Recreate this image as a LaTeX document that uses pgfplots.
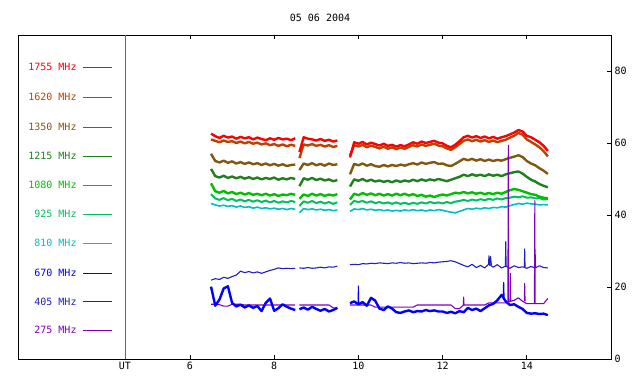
\documentclass[border=0pt]{standalone}
\usepackage{pgfplots}
\pgfplotsset{compat=1.18}
\usepackage{pgfplotstable}
\usepackage{fontspec}
\setmainfont{DejaVu Sans Mono}
\definecolor{cA}{RGB}{255,0,0}
\definecolor{cB}{RGB}{192,64,0}
\definecolor{cC}{RGB}{128,88,16}
\definecolor{cD}{RGB}{32,128,32}
\definecolor{cE}{RGB}{0,192,0}
\definecolor{cF}{RGB}{0,192,96}
\definecolor{cG}{RGB}{0,192,192}
\definecolor{cH}{RGB}{0,0,255}
\definecolor{cI}{RGB}{32,32,192}
\definecolor{cJ}{RGB}{128,0,192}
\definecolor{cGray}{RGB}{100,100,100}
\pgfplotstableread{
x r o b dg g t c bl db p
6.5 62.6 61.0 57.0 52.8 48.8 45.8 43.2 20.1 21.9 15.2
6.6 61.9 60.6 55.0 50.8 46.6 44.6 42.8 14.8 22.3 15.2
6.7 61.4 60.2 54.6 50.4 46.2 44.2 42.5 16.5 22.1 15.1
6.8 62.0 60.7 55.1 50.9 46.7 44.7 42.7 19.6 22.7 14.7
6.9 61.5 60.3 54.5 50.3 46.0 44.1 42.4 20.2 22.4 14.7
7.0 61.8 60.5 54.9 50.7 46.4 44.5 42.6 15.6 22.9 15.2
7.1 61.2 60.0 54.3 50.2 45.8 43.9 42.2 14.6 23.3 15.2
7.2 61.7 60.4 54.7 50.6 46.2 44.3 42.5 15.1 24.4 15.2
7.3 61.3 59.9 54.2 50.1 45.7 43.8 42.1 14.3 24.0 15.0
7.4 61.6 60.3 54.6 50.5 46.1 44.2 42.3 14.9 24.3 15.0
7.5 61.0 59.8 54.1 50.0 45.6 43.7 41.9 14.2 23.9 15.0
7.6 61.5 60.1 54.4 50.4 45.9 44.1 42.2 14.7 24.2 15.0
7.7 61.1 59.6 53.9 49.9 45.5 43.6 41.8 13.3 23.8 15.0
7.8 60.8 59.9 54.3 50.3 45.9 44.0 42.0 15.6 24.2 15.0
7.9 61.3 59.4 53.8 50.0 45.4 43.5 41.7 16.8 24.6 15.0
8.0 60.9 59.7 54.2 50.4 45.8 43.9 41.9 13.4 24.9 15.0
8.1 61.4 59.2 53.7 49.8 45.3 43.4 41.6 14.1 25.3 15.0
8.2 61.0 59.6 54.1 50.2 45.7 43.8 41.8 15.2 25.1 15.0
8.3 61.2 59.1 53.6 49.9 45.5 43.5 41.5 14.5 25.2 15.0
8.4 60.8 59.5 53.9 50.3 45.9 43.9 41.8 14.0 25.1 15.0
8.5 61.3 59.2 54.0 50.0 45.6 43.6 41.6 13.6 25.2 15.0
8.55 nan nan nan nan nan nan nan nan nan nan
8.6 57.5 55.8 52.5 48.0 44.5 42.5 40.6 13.8 25.3 15.0
8.7 61.6 59.6 54.3 50.2 45.7 43.8 41.8 14.3 25.2 15.0
8.8 61.2 59.3 53.9 49.8 45.3 43.4 41.5 13.7 25.4 15.0
8.9 61.0 59.7 54.4 50.3 45.9 43.9 41.7 14.5 25.2 15.0
9.0 60.7 59.2 53.8 49.7 45.4 43.3 41.4 13.9 25.3 15.0
9.1 61.1 59.5 54.2 50.1 45.8 43.7 41.6 13.4 25.5 15.0
9.2 60.6 59.0 53.7 49.6 45.3 43.2 41.3 13.9 25.3 15.0
9.3 60.9 59.4 54.3 49.9 45.7 43.6 41.5 13.2 25.6 15.0
9.4 60.4 58.9 53.9 49.4 45.4 43.1 41.2 13.6 25.5 14.2
9.5 60.7 59.2 54.1 49.7 45.8 43.5 41.4 14.2 25.8 14.2
9.65 nan nan nan nan nan nan nan nan nan nan
9.8 56.0 56.5 51.3 47.9 44.3 42.8 41.0 15.5 26.2 15.0
9.9 60.2 59.4 54.2 49.9 45.9 43.9 41.7 16.0 26.3 15.0
10.0 59.8 59.0 53.8 49.5 45.5 43.6 41.5 15.2 26.2 15.0
10.1 60.3 59.5 54.3 50.0 46.1 43.9 41.8 15.8 26.5 15.0
10.2 59.6 58.8 53.7 49.4 45.6 43.4 41.4 14.8 26.4 15.0
10.3 60.1 59.3 54.1 49.8 46.0 43.8 41.6 17.0 26.6 15.0
10.4 59.7 58.9 53.6 49.3 45.5 43.3 41.3 16.2 26.5 14.4
10.5 59.3 58.5 53.4 49.6 45.9 43.6 41.5 14.0 26.7 14.4
10.6 59.8 59.0 53.9 49.2 45.4 43.2 41.2 13.6 26.6 14.4
10.7 59.2 58.4 53.5 49.5 45.8 43.5 41.4 14.6 26.5 14.4
10.8 59.5 58.8 53.9 49.1 45.4 43.1 41.1 14.0 26.7 14.4
10.9 59.0 58.3 53.6 49.6 45.9 43.5 41.3 13.0 26.6 14.4
11.0 59.4 58.7 54.0 49.2 45.5 43.1 41.1 12.8 26.8 14.4
11.1 59.1 58.4 53.7 49.6 45.9 43.4 41.4 13.2 26.6 14.4
11.2 59.6 58.9 54.1 49.3 45.4 43.0 41.2 13.5 26.7 14.4
11.3 60.2 59.4 54.4 49.8 45.8 43.4 41.5 13.0 26.5 14.4
11.4 59.8 59.0 54.0 49.4 45.3 43.1 41.2 13.3 26.6 15.0
11.5 60.4 59.6 54.6 49.9 45.6 43.5 41.4 13.2 26.7 15.0
11.6 60.0 59.2 54.2 49.5 45.1 43.2 41.1 13.6 26.6 15.0
11.7 60.3 59.5 54.5 49.9 45.4 43.6 41.4 13.3 26.8 15.0
11.8 60.6 59.8 54.7 49.6 45.0 43.3 41.2 13.5 26.7 15.0
11.9 60.1 59.3 54.2 50.0 45.4 43.5 41.5 13.2 26.9 15.0
12.0 59.9 59.1 54.3 49.7 45.7 43.2 41.3 13.2 27.0 15.0
12.1 59.2 58.5 53.8 49.4 45.4 43.6 41.0 12.8 27.1 15.0
12.2 58.8 58.1 53.6 49.8 45.8 43.3 40.8 13.1 27.3 15.0
12.3 59.5 58.8 54.2 50.2 46.2 43.7 40.6 12.7 27.0 14.0
12.4 60.5 59.7 54.9 50.6 46.0 43.9 41.0 13.3 26.5 14.0
12.5 61.6 60.6 55.6 51.2 46.4 44.2 41.4 13.0 26.0 15.0
12.6 62.0 61.0 55.2 50.8 46.0 43.9 41.8 14.2 25.6 15.0
12.7 61.5 60.5 55.6 51.3 46.3 44.3 41.6 13.6 26.3 15.0
12.8 61.9 60.9 55.1 50.9 45.9 44.0 41.9 14.0 25.4 15.0
12.9 61.4 60.4 55.5 51.2 46.2 44.4 41.7 13.3 26.0 15.0
13.0 61.8 60.8 55.0 50.8 45.8 44.1 42.0 14.1 25.3 15.0
13.1 61.3 60.3 55.4 51.3 46.1 44.5 41.8 14.9 26.4 15.6
13.2 61.7 60.7 55.0 50.9 45.8 44.2 42.1 15.3 25.5 15.6
13.3 61.2 60.2 55.3 51.2 46.2 44.6 42.0 16.3 26.2 15.6
13.4 61.6 60.6 55.1 50.8 45.9 44.3 42.3 17.8 25.3 15.6
13.5 61.9 60.9 55.5 51.3 46.4 44.7 42.2 16.0 25.8 15.6
13.6 62.4 61.5 55.9 51.6 46.9 44.8 42.6 15.0 25.2 16.0
13.7 62.9 62.0 56.2 51.9 47.2 45.1 42.9 15.2 25.9 16.3
13.8 63.6 62.8 56.6 52.1 47.0 44.9 43.2 14.5 25.4 17.0
13.9 63.2 62.3 56.1 51.5 46.6 45.2 43.0 13.9 25.6 16.0
14.0 62.0 61.0 55.0 50.6 46.2 44.8 43.3 12.8 25.2 15.4
14.1 61.6 60.3 54.3 49.8 45.8 44.9 43.1 12.6 25.7 15.4
14.2 60.9 59.6 53.8 49.3 45.6 44.6 43.0 12.7 25.3 15.4
14.3 60.2 58.8 53.0 48.6 45.1 44.7 42.8 12.5 25.9 15.4
14.4 59.2 57.7 52.3 48.1 44.8 44.3 42.9 12.6 25.4 15.4
14.5 57.8 56.3 51.4 47.7 44.6 44.4 42.8 12.2 25.3 16.8
}\data
\newcommand{\lfont}{\fontsize{10bp}{12bp}\selectfont}
\begin{document}
\begin{tikzpicture}
\path[use as bounding box] (0,0) rectangle (640bp,384bp);
\node[font=\lfont] at (320bp,366bp) {05 06 2004};
\begin{axis}[
  at={(18bp,25bp)}, anchor=south west,
  scale only axis, width=593bp, height=324bp,
  xmin=1.915, xmax=16, ymin=0, ymax=90,
  xtick={6,8,10,12,14}, ytick={0,20,40,60,80},
  xtick pos=both, xticklabel pos=bottom,
  ytick pos=right, yticklabel pos=right,
  tick align=inside, major tick length=4bp,
  axis line style={line width=0.9bp, black},
  tick style={line width=0.9bp, black},
  tick label style={font=\lfont},
  /pgf/number format/assume math mode=true,
  extra x ticks={4.456}, extra x tick labels={UT},
  extra x tick style={major tick length=0pt, xtick pos=bottom},
  unbounded coords=jump,
  every axis plot/.append style={line join=round},
]
\draw[cGray, line width=0.9bp] (axis cs:4.456,0) -- (axis cs:4.456,90);
% legend
\draw[cA, line width=1bp] (axis cs:3.46,81.0) -- (axis cs:4.15,81.0);
\node[anchor=east, text=cA, inner sep=0pt, font=\lfont] at (axis cs:3.31,81.0) {1755 MHz};
\draw[cB, line width=1bp] (axis cs:3.46,72.7) -- (axis cs:4.15,72.7);
\node[anchor=east, text=cB, inner sep=0pt, font=\lfont] at (axis cs:3.31,72.7) {1620 MHz};
\draw[cC, line width=1bp] (axis cs:3.46,64.4) -- (axis cs:4.15,64.4);
\node[anchor=east, text=cC, inner sep=0pt, font=\lfont] at (axis cs:3.31,64.4) {1350 MHz};
\draw[cD, line width=1bp] (axis cs:3.46,56.3) -- (axis cs:4.15,56.3);
\node[anchor=east, text=cD, inner sep=0pt, font=\lfont] at (axis cs:3.31,56.3) {1215 MHz};
\draw[cE, line width=1bp] (axis cs:3.46,48.25) -- (axis cs:4.15,48.25);
\node[anchor=east, text=cE, inner sep=0pt, font=\lfont] at (axis cs:3.31,48.25) {1080 MHz};
\draw[cF, line width=1bp] (axis cs:3.46,40.2) -- (axis cs:4.15,40.2);
\node[anchor=east, text=cF, inner sep=0pt, font=\lfont] at (axis cs:3.31,40.2) {925 MHz};
\draw[cG, line width=1bp] (axis cs:3.46,32.14) -- (axis cs:4.15,32.14);
\node[anchor=east, text=cG, inner sep=0pt, font=\lfont] at (axis cs:3.31,32.14) {810 MHz};
\draw[cH, line width=1bp] (axis cs:3.46,23.8) -- (axis cs:4.15,23.8);
\node[anchor=east, text=cH, inner sep=0pt, font=\lfont] at (axis cs:3.31,23.8) {670 MHz};
\draw[cI, line width=1bp] (axis cs:3.46,16.0) -- (axis cs:4.15,16.0);
\node[anchor=east, text=cI, inner sep=0pt, font=\lfont] at (axis cs:3.31,16.0) {405 MHz};
\draw[cJ, line width=1bp] (axis cs:3.46,8.0) -- (axis cs:4.15,8.0);
\node[anchor=east, text=cJ, inner sep=0pt, font=\lfont] at (axis cs:3.31,8.0) {275 MHz};
\addplot[cG, line width=1.6bp] table[x=x,y=c] {\data};
\addplot[cF, line width=2bp] table[x=x,y=t] {\data};
\addplot[cE, line width=2.4bp] table[x=x,y=g] {\data};
\addplot[cD, line width=2.4bp] table[x=x,y=dg] {\data};
\addplot[cC, line width=2.4bp] table[x=x,y=b] {\data};
\addplot[cB, line width=2.4bp] table[x=x,y=o] {\data};
\addplot[cA, line width=2.4bp] table[x=x,y=r] {\data};
\addplot[cI, line width=1.1bp] table[x=x,y=db] {\data};
\addplot[cJ, line width=1.1bp] table[x=x,y=p] {\data};
\addplot[cH, line width=2.4bp] table[x=x,y=bl] {\data};
% spikes
\addplot[cI, line width=1bp] coordinates {(13.09,26.2) (13.1,28.7) (13.12,26.0) (13.14,28.5) (13.16,26.0)};
\addplot[cI, line width=1bp] coordinates {(13.49,25.6) (13.5,32.6) (13.51,25.6)};
\addplot[cI, line width=1bp] coordinates {(13.94,25.5) (13.95,30.6) (13.96,25.5)};
\addplot[cI, line width=1bp] coordinates {(14.19,25.3) (14.2,29.0) (14.21,25.3)};
\addplot[cH, line width=1bp] coordinates {(9.99,15.2) (10.0,20.3) (10.01,15.2)};
\addplot[cH, line width=1.2bp] coordinates {(13.44,17.0) (13.45,21.2) (13.46,16.5)};
\addplot[cJ, line width=1bp] coordinates {(12.49,15.0) (12.5,17.2) (12.51,15.0)};
\addplot[cJ, line width=1bp] coordinates {(13.55,15.6) (13.56,59.4) (13.57,15.6)};
\addplot[cJ, line width=1bp] coordinates {(13.6,16.0) (13.61,23.8) (13.62,16.0)};
\addplot[cJ, line width=1bp] coordinates {(13.94,16.0) (13.95,21.0) (13.96,16.0)};
\addplot[cJ, line width=1bp] coordinates {(14.18,15.4) (14.19,44.0) (14.2,15.4)};
\end{axis}
\end{tikzpicture}
\end{document}
